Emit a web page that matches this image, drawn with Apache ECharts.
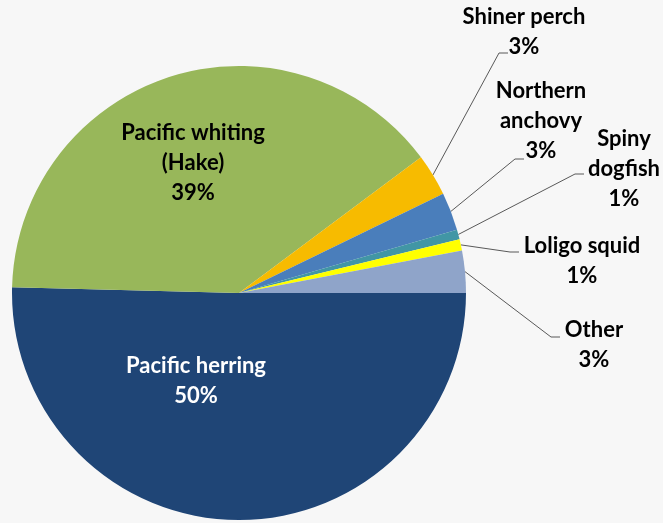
<!DOCTYPE html>
<html>
<head>
<meta charset="utf-8">
<script src="https://cdn.jsdelivr.net/npm/echarts@6/dist/echarts.min.js"></script>
<style>
  html, body { margin: 0; background: #f7f7f7; }
  #chart { width: 663px; height: 523px; }
</style>
</head>
<body>
<div id="chart"></div>
<script>
// catch composition by species (share of total, %)
const species = ['Pacific herring', 'Pacific whiting (Hake)', 'Shiner perch', 'Northern anchovy', 'Spiny dogfish', 'Loligo squid', 'Other'];
const labelText = ['Pacific herring', 'Pacific whiting\n(Hake)', 'Shiner perch', 'Northern\nanchovy', 'Spiny\ndogfish', 'Loligo squid', 'Other'];
const shares = [50.4, 39.4, 3.0, 2.7, 0.7, 0.8, 3.0];
const colors = ['#1f4576', '#98b75a', '#f7bb00', '#4a7ebb', '#4196a5', '#ffff00', '#8fa4c9'];

// where each label sits (inside: text centre; outside: text centre-x / top-y + leader end)
const labelSpots = [
  { x: 196, y: 381, inside: true },
  { x: 193, y: 163, inside: true },
  { x: 524, y: 2, ax: 508, ay: 53 },
  { x: 541, y: 76, ax: 524, ay: 159 },
  { x: 624, y: 124, ax: 584, ay: 174 },
  { x: 582, y: 231, ax: 519, ay: 252 },
  { x: 594, y: 315, ax: 560, ay: 337 }
];

const chart = echarts.init(document.getElementById('chart'));

const data = species.map((name, i) => {
  const item = { name: name, value: shares[i], itemStyle: { color: colors[i] } };
  if (labelSpots[i].inside) {
    item.label = { position: 'inside', color: i === 0 ? '#ffffff' : '#000000' };
    item.labelLine = { show: false };
  }
  return item;
});

chart.setOption({
  backgroundColor: '#f7f7f7',
  animation: false,
  series: [{
    type: 'pie',
    center: [239, 293],
    radius: 227,
    startAngle: 0,
    clockwise: true,
    avoidLabelOverlap: false,
    emphasis: { disabled: true },
    itemStyle: { borderWidth: 0 },
    label: {
      show: true,
      position: 'outside',
      fontFamily: 'Lato',
      fontWeight: 'bold',
      fontSize: 22,
      lineHeight: 30,
      color: '#000000',
      align: 'center',
      formatter: p => labelText[p.dataIndex] + '\n' + Math.round(p.percent) + '%'
    },
    labelLine: {
      show: true,
      lineStyle: { color: '#595959', width: 1 }
    },
    labelLayout: function (p) {
      const s = labelSpots[p.dataIndex];
      if (s.inside) {
        return { x: s.x, y: s.y, align: 'center', verticalAlign: 'middle' };
      }
      const start = p.labelLinePoints[0];
      return {
        x: s.x, y: s.y, align: 'center', verticalAlign: 'top',
        labelLinePoints: [start, [s.ax - 9, s.ay], [s.ax, s.ay]]
      };
    },
    data: data
  }]
});
</script>
</body>
</html>
